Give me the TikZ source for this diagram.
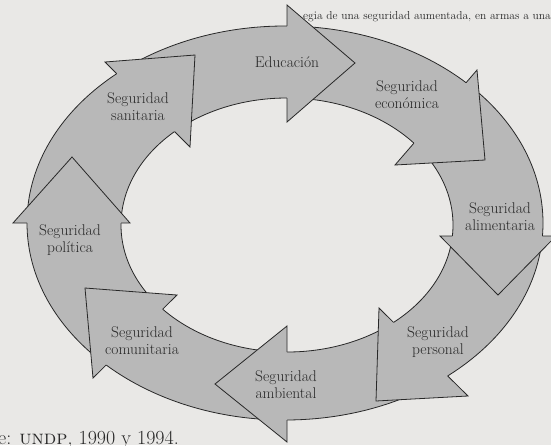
\documentclass[tikz,border=0pt]{standalone}
\usepackage{tikz}
\usetikzlibrary{positioning}
\usetikzlibrary{intersections}

\definecolor{paper}{RGB}{233,232,230}
\definecolor{arrowfill}{RGB}{184,184,184}
\definecolor{ink}{RGB}{40,40,40}

\begin{document}
\begin{tikzpicture}[x=1pt, y=-1pt,
    ring/.style = {fill=arrowfill, draw=ink, line width=0.8pt, even odd rule},
    edge/.style = {draw=ink, line width=0.8pt, line join=miter},
    lbl/.style = {align=center, inner sep=0pt, text=ink, font=\fontsize{15.5}{17}\selectfont},
    pagetext/.style = {inner sep=0pt, text=ink}]

    \useasboundingbox (0,0) rectangle (551,445);
    \fill[paper] (0,0) rectangle (551,445);

    \node[pagetext, anchor=base east, font=\fontsize{11.5}{13}\selectfont] (topline) at (551,19) {egia de una seguridad aumentada, en armas a una};
    \node[pagetext, anchor=base west, font=\fontsize{20}{22}\selectfont] (source) at (-2,444) {e: \textsc{undp}, 1990 y 1994.};

    \path[name path=outer] (285,223) ellipse [x radius=258pt, y radius=197pt];
    \path[name path=inner] (287,225) ellipse [x radius=166pt, y radius=127pt];
    \path[ring] (285,223) ellipse [x radius=258pt, y radius=197pt]
                (287,225) ellipse [x radius=166pt, y radius=127pt];

    \coordinate (sanA) at (105,62);
    \coordinate (sanT) at (195,55);
    \coordinate (sanB) at (190,147);
    \coordinate (eduA) at (287,5);
    \coordinate (eduT) at (355,63);
    \coordinate (eduB) at (287,122);
    \coordinate (ecoA) at (477,70);
    \coordinate (ecoT) at (485,160);
    \coordinate (ecoB) at (395,165);
    \coordinate (aliA) at (556,236);
    \coordinate (aliT) at (498,295);
    \coordinate (aliB) at (440,236);
    \coordinate (perA) at (468,396);
    \coordinate (perT) at (376,401);
    \coordinate (perB) at (379,308);
    \coordinate (ambA) at (287,442);
    \coordinate (ambT) at (215,384);
    \coordinate (ambB) at (287,326);
    \coordinate (comA) at (93,378);
    \coordinate (comT) at (85,288);
    \coordinate (comB) at (177,295);
    \coordinate (polA) at (13,223);
    \coordinate (polT) at (72,157);
    \coordinate (polB) at (130,223);

    \foreach \h in {san,edu,eco,ali,per,amb,com,pol} {
        \path[name path=base] (\h A) -- (\h B);
        \path[name intersections={of=outer and base, by=\h O}];
        \path[name intersections={of=inner and base, by=\h I}];
        \fill[arrowfill] (\h A) -- (\h T) -- (\h B) -- cycle;
        \draw[edge] (\h O) -- (\h A) -- (\h T) -- (\h B) -- (\h I);
    }

    \node[lbl] (sanitaria) at (138,107) {Seguridad\\sanitaria};
    \node[lbl] (educacion) at (287,62) {Educación};
    \node[lbl] (economica) at (407,95) {Seguridad\\económica};
    \node[lbl] (alimentaria) at (500,217) {Seguridad\\alimentaria};
    \node[lbl] (personal) at (438,342) {Seguridad\\personal};
    \node[lbl] (ambiental) at (286,385) {Seguridad\\ambiental};
    \node[lbl] (comunitaria) at (142,341) {Seguridad\\comunitaria};
    \node[lbl] (politica) at (70,240) {Seguridad\\política};
\end{tikzpicture}
\end{document}
